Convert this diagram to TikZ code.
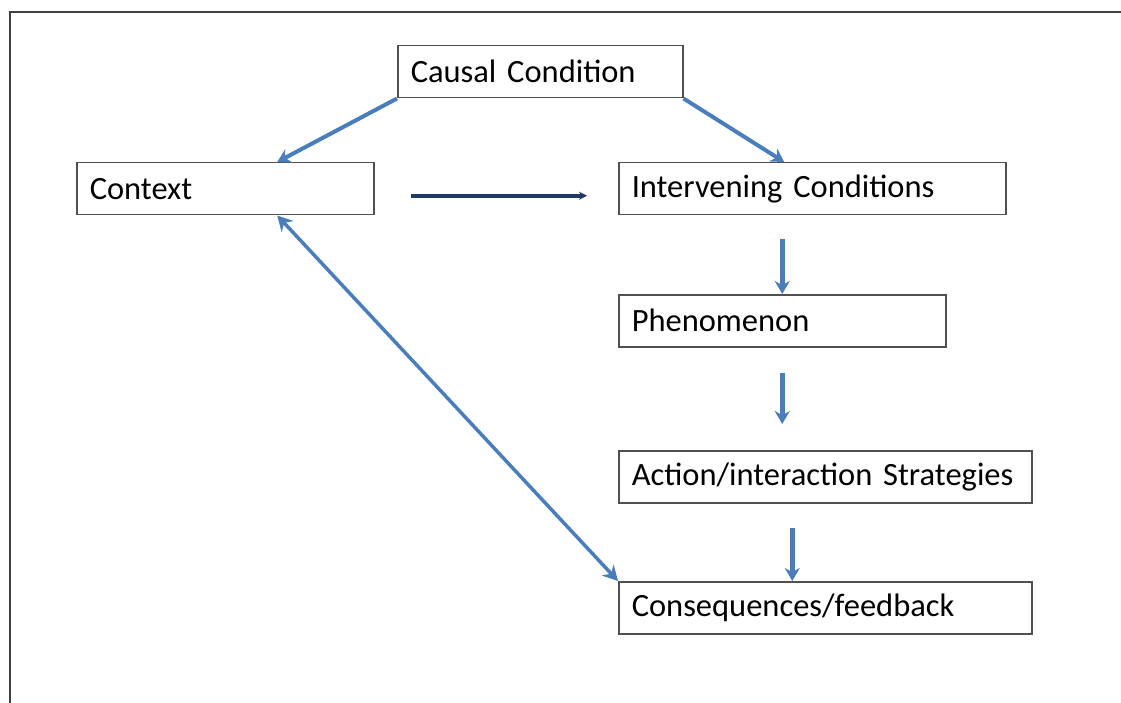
\documentclass[tikz,border=0pt]{standalone}
\usepackage{fontspec}
\setmainfont{Carlito}
\usetikzlibrary{arrows.meta,calc}
\definecolor{arrblue}{HTML}{4A7EBB}
\definecolor{navy}{HTML}{1F3A60}
\definecolor{boxline}{HTML}{505050}
\tikzset{
  box/.style={draw=boxline, line width=1.5pt, anchor=north west, inner xsep=13pt, inner ysep=0pt,
    minimum height=52pt, align=left, font=\fontsize{32.5}{36}\selectfont},
  flow/.style={draw=arrblue, line width=5pt, -{Stealth[length=13pt,width=15pt]}},
  both/.style={draw=arrblue, line width=3.5pt, {Stealth[length=15pt,width=16pt]}-{Stealth[length=15pt,width=16pt]}},
  dark/.style={draw=navy, line width=4pt, -{Stealth[length=8pt,width=8pt]}}
}
\begin{document}
\begin{tikzpicture}[x=1pt,y=-1pt]
\useasboundingbox (0,0) rectangle (1121,703);
\draw[line width=2pt, draw=black!75] (10,703) -- (10,12) -- (1121,12);
\node[box, minimum width=285pt, text width=259pt] (cau) at (397,45) {Causal Condition};
\node[box, minimum width=297pt, text width=271pt] (ctx) at (76,162) {Context};
\node[box, minimum width=387pt, text width=361pt] (int) at (618,162) {Intervening Conditions};
\node[box, minimum width=327pt, text width=301pt] (phe) at (618,294) {Phenomenon};
\node[box, minimum width=413pt, text width=387pt] (act) at (618,450) {Action/interaction Strategies};
\node[box, minimum width=413pt, text width=387pt] (con) at (618,581) {Consequences/feedback};
% anchor points
\coordinate (ctxN) at ($(ctx.north)+(52,0)$);
\coordinate (ctxS) at ($(ctx.south)+(52,0)$);
\coordinate (intN) at ($(int.north)+(-28,0)$);
\coordinate (ctxE) at ($(ctx.east)+(0,7)$);
\coordinate (intW) at (ctxE -| int.west);
\coordinate (actS) at ($(act.south)+(-33,0)$);
\coordinate (conN) at (actS |- con.north);
\coordinate (intS) at (int.south -| phe.north);
\coordinate (actN) at (phe.south |- act.north);
% connectors
\draw[flow, line width=4pt] (cau.south west) -- (ctxN);
\draw[flow, line width=4pt] (cau.south east) -- (intN);
\draw[dark, shorten <=36pt, shorten >=31pt] (ctxE) -- (intW);
\draw[flow, shorten <=24pt] (intS) -- (phe.north);
\draw[flow, shorten <=25pt, shorten >=26pt] (phe.south) -- (actN);
\draw[flow, shorten <=24pt] (actS) -- (conN);
\draw[both] (ctxS) -- (con.north west);
\end{tikzpicture}
\end{document}
